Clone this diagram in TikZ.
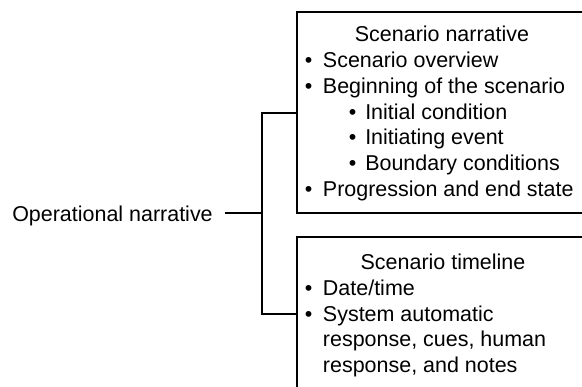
\documentclass[tikz,border=0pt]{standalone}
\usepackage{fontspec}
\setmainfont{Liberation Sans}
\begin{document}
\begin{tikzpicture}[x=0.75pt,y=-0.75pt,
  txt/.style={inner sep=0pt,font=\fontsize{16.1pt}{19.3pt}\selectfont},
  line/.style={draw=black,line width=1.5pt},
  boxx/.style={draw=black,line width=1.5pt,rectangle,inner sep=0pt,minimum width=234pt},
  bul/.style={txt,anchor=base},
  item/.style={txt,anchor=base west},
  head/.style={txt,anchor=base}]
\useasboundingbox (0,0) rectangle (582,386);
\clip (0,0) rectangle (582,386);
% boxes
\node[boxx,minimum height=150.75pt] (box1) at (453,112.5) {};
\node[boxx,minimum height=136.9pt] (box2) at (453,328.75) {};
% box 1 text
\node[head] (h1) at (442,41.7) {Scenario narrative};
\node[bul] (b1) at (308.7,67.5) {•};
\node[item] (t1) at (322.7,67.5) {Scenario overview};
\node[bul] (b2) at (308.7,93.3) {•};
\node[item] (t2) at (322.7,93.3) {Beginning of the scenario};
\node[bul] (b3) at (352.7,119.1) {•};
\node[item] (t3) at (365,119.1) {Initial condition};
\node[bul] (b4) at (352.7,144.9) {•};
\node[item] (t4) at (365,144.9) {Initiating event};
\node[bul] (b5) at (352.7,170.7) {•};
\node[item] (t5) at (365,170.7) {Boundary conditions};
\node[bul] (b6) at (308.7,196.5) {•};
\node[item] (t6) at (322.7,196.5) {Progression and end state};
% box 2 text
\node[head] (h2) at (443,269.5) {Scenario timeline};
\node[bul] (c1) at (308.7,295.3) {•};
\node[item] (u1) at (322.7,295.3) {Date/time};
\node[bul] (c2) at (308.7,321.1) {•};
\node[item] (u2) at (322.7,321.1) {System automatic};
\node[item] (u3) at (322.7,346.9) {response, cues, human};
\node[item] (u4) at (322.7,372.7) {response, and notes};
% root
\node[item,inner xsep=9pt] (op) at (0,221.7) {Operational narrative};
% connectors
\coordinate (jt) at (261.7,113.3);
\coordinate (jm) at (261.7,212.7);
\coordinate (jb) at (261.7,314.3);
\draw[line] (op.east |- jm) -- (jm);
\draw[line] (box1.west |- jt) -- (jt) -- (jb) -- (box2.west |- jb);
\end{tikzpicture}
\end{document}
